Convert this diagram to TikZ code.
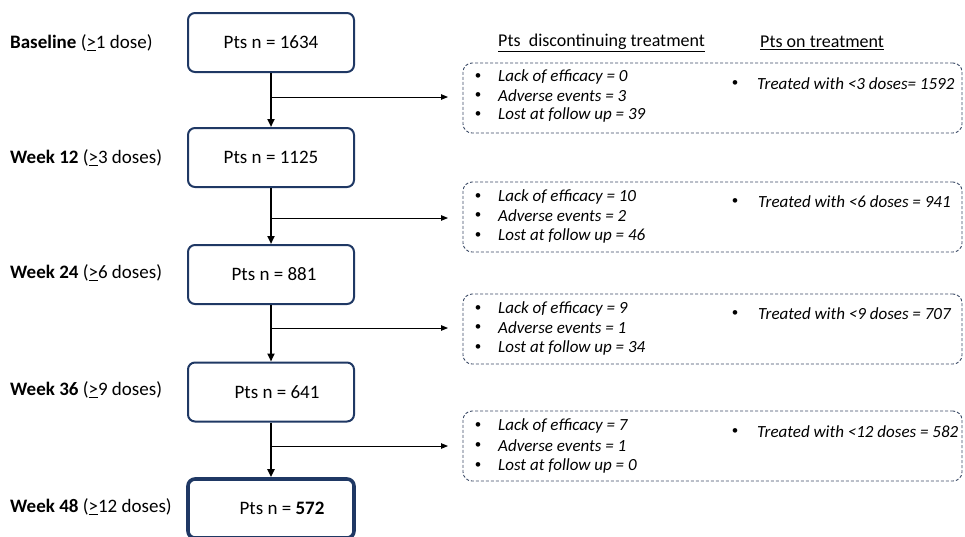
\documentclass[tikz,border=0pt]{standalone}
\usepackage{fontspec}
\setmainfont{Carlito}
\usetikzlibrary{arrows.meta}
\definecolor{navy}{HTML}{1F3864}
\definecolor{dashc}{HTML}{3B4A66}
\begin{document}
\begin{tikzpicture}[x=1pt,y=-1pt,
  ptsbox/.style={draw=navy,line width=2pt,rounded corners=7pt,minimum width=166pt,minimum height=59pt,inner sep=0pt,font=\fontsize{19}{22}\selectfont},
  finalbox/.style={ptsbox,line width=3.6pt},
  dashbox/.style={draw=dashc,line width=0.9pt,dash pattern=on 3pt off 2pt,rounded corners=9pt,minimum width=499pt,minimum height=70pt,inner sep=0pt},
  lbl/.style={anchor=west,inner sep=0pt,font=\fontsize{19}{22}\selectfont},
  itm/.style={anchor=west,inner sep=0pt,font=\fontsize{17}{20}\selectfont\itshape},
  bul/.style={anchor=center,inner sep=0pt,font=\fontsize{13}{15}\selectfont},
  hdr/.style={anchor=west,inner sep=0pt,font=\fontsize{18}{21}\selectfont},
  mainarrow/.style={line width=2.2pt,-{Triangle[length=8pt,width=7pt]}},
  sidearrow/.style={line width=0.9pt,-{Triangle[length=7pt,width=5.5pt]}}]
\useasboundingbox (0,0) rectangle (965,536);

% left labels
\node[lbl] (l1) at (10,43) {\textbf{Baseline} (\underline{>}1 dose)};
\node[lbl] (l2) at (10,158) {\textbf{Week 12} (\underline{>}3 doses)};
\node[lbl] (l3) at (10,273) {\textbf{Week 24} (\underline{>}6 doses)};
\node[lbl] (l4) at (10,390) {\textbf{Week 36} (\underline{>}9 doses)};
\node[lbl] (l5) at (10,507) {\textbf{Week 48} (\underline{>}12 doses)};

% main boxes
\node[ptsbox] (b1) at (271,42.5) {Pts n = 1634};
\node[ptsbox] (b2) at (271,157.5) {Pts n = 1125};
\node[ptsbox] (b3) at (271,274.5) {\hspace{6pt}Pts n = 881};
\node[ptsbox] (b4) at (271,392) {\hspace{12pt}Pts n = 641};
\node[finalbox] (b5) at (271,508.5) {\hspace{22pt}Pts n = \textbf{572}};

\draw[mainarrow] (b1.south) -- (b2.north);
\draw[mainarrow] (b2.south) -- (b3.north);
\draw[mainarrow] (b3.south) -- (b4.north);
\draw[mainarrow] (b4.south) -- (b5.north);

% headers
\node[hdr] (h1) at (498,43) {\underline{Pts\ \ discontinuing treatment}};
\node[hdr] (h2) at (760,43) {\underline{Pts on treatment}};

% dashed boxes
\node[dashbox] (d1) at (712.5,98) {};
\node[dashbox] (d2) at (712.5,217) {};
\node[dashbox] (d3) at (712.5,329) {};
\node[dashbox] (d4) at (712.5,446) {};

% branches
\coordinate (s1) at (272,97);  \coordinate (e1) at (448,97);
\coordinate (s2) at (272,218); \coordinate (e2) at (448,218);
\coordinate (s3) at (272,328); \coordinate (e3) at (448,328);
\coordinate (s4) at (272,446); \coordinate (e4) at (448,446);
\draw[sidearrow] (s1) -- (e1);
\draw[sidearrow] (s2) -- (e2);
\draw[sidearrow] (s3) -- (e3);
\draw[sidearrow] (s4) -- (e4);

% box 1 contents
\node[bul] (p11) at (478,77) {•};  \node[itm] (t11) at (498,77) {Lack of efficacy = 0};
\node[bul] (p12) at (478,96) {•};  \node[itm] (t12) at (498,96) {Adverse events = 3};
\node[bul] (p13) at (478,115) {•}; \node[itm] (t13) at (498,115) {Lost at follow up = 39};
\node[bul] (q1) at (735,84) {•};   \node[itm] (u1) at (757,84) {Treated with <3 doses= 1592};

% box 2 contents
\node[bul] (p21) at (478,197) {•}; \node[itm] (t21) at (498,197) {Lack of efficacy = 10};
\node[bul] (p22) at (478,216) {•}; \node[itm] (t22) at (498,216) {Adverse events = 2};
\node[bul] (p23) at (478,236) {•}; \node[itm] (t23) at (498,236) {Lost at follow up = 46};
\node[bul] (q2) at (735,202) {•};  \node[itm] (u2) at (758,202) {Treated with <6 doses = 941};

% box 3 contents
\node[bul] (p31) at (478,309) {•}; \node[itm] (t31) at (498,309) {Lack of efficacy = 9};
\node[bul] (p32) at (478,328) {•}; \node[itm] (t32) at (498,328) {Adverse events = 1};
\node[bul] (p33) at (478,348) {•}; \node[itm] (t33) at (498,348) {Lost at follow up = 34};
\node[bul] (q3) at (735,314) {•};  \node[itm] (u3) at (758,314) {Treated with <9 doses = 707};

% box 4 contents
\node[bul] (p41) at (478,426) {•}; \node[itm] (t41) at (498,426) {Lack of efficacy = 7};
\node[bul] (p42) at (478,446) {•}; \node[itm] (t42) at (498,446) {Adverse events = 1};
\node[bul] (p43) at (478,466) {•}; \node[itm] (t43) at (498,466) {Lost at follow up = 0};
\node[bul] (q4) at (735,432) {•};  \node[itm] (u4) at (757,432) {Treated with <12 doses = 582};
\end{tikzpicture}
\end{document}
